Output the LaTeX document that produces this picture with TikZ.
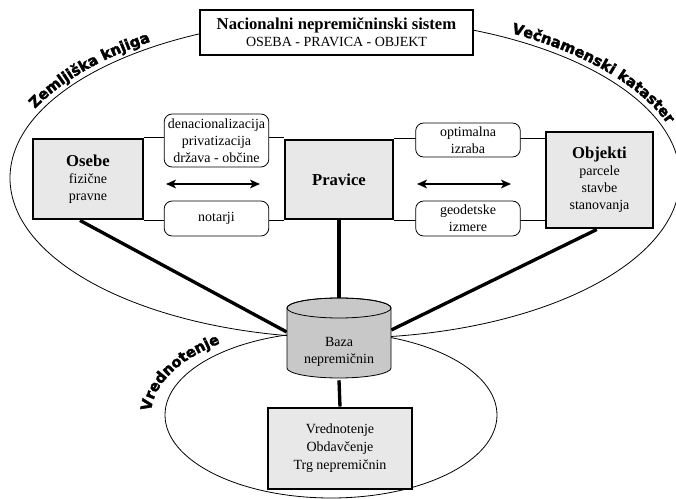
\documentclass[tikz,border=0pt]{standalone}
\usepackage{fontspec}
\setmainfont{Liberation Serif}
\newfontfamily\arcfont{DejaVu Sans Bold}[FakeBold=2.5]
\usetikzlibrary{arrows.meta,decorations.text,backgrounds}

\newcommand{\naslov}[1]{{\fontsize{12.5}{15}\selectfont\bfseries #1}}

\begin{document}
\begin{tikzpicture}[x=0.75pt, y=-0.75pt, draw=black,
  every node/.style={font=\fontsize{10.5}{12.75}\selectfont, align=center},
  gbox/.style={draw, line width=2.2pt, fill=gray!18, inner sep=1pt},
  rbox/.style={draw, line width=0.6pt, fill=white, rounded corners=6pt, inner sep=0.5pt, minimum width=78.5pt},
  tanka/.style={line width=0.6pt},
  debela/.style={line width=2.5pt},
  puscica/.style={line width=1.1pt, {Stealth[length=7.5pt,width=6.5pt,inset=2pt]}-{Stealth[length=7.5pt,width=6.5pt,inset=2pt]}},
  oznaka/.style={decorate, decoration={text along path, text align=center, text={|\arcfont\fontsize{11}{12}\selectfont|#1}}}]

\clip (0,0) rectangle (676,499);

% obroca
\draw[tanka] (345,178) ellipse [x radius=335, y radius=160];
\draw[tanka] (331,415) ellipse [x radius=166, y radius=83];

\path[oznaka={Zemljiška knjiga}] (345,178) ++(-161:341 and 166) arc[start angle=-161, end angle=-121, x radius=341, y radius=166];
\path[oznaka={Večnamenski kataster}] (345,178) ++(-62:341 and 166) arc[start angle=-62, end angle=-17, x radius=341, y radius=166];
\path[oznaka={Vrednotenje}] (331,415) ++(-181:180 and 91) arc[start angle=-181, end angle=-126, x radius=180, y radius=91];

\node[draw, line width=2.2pt, fill=white, minimum width=204.75pt, minimum height=33.75pt] (sistem) at (336.5,32.5) {\naslov{Nacionalni nepremičninski sistem}\\OSEBA - PRAVICA - OBJEKT};

\node[gbox, minimum width=82.5pt, minimum height=60pt] (osebe) at (88,179) {\naslov{Osebe}\\fizične\\pravne};

\node[gbox, minimum width=81pt, minimum height=59.25pt] (pravice) at (339,179.5) {\naslov{Pravice}};

\node[gbox, minimum width=80.25pt, minimum height=72pt] (objekti) at (599.5,180) {\naslov{Objekti}\\parcele\\stavbe\\stanovanja};

\node[rbox, minimum height=39.75pt] (denac) at (216.5,140.5) {denacionalizacija\\privatizacija\\država - občine};
\node[rbox, minimum height=26.25pt] (notarji) at (216.5,218.5) {notarji};
\node[rbox, minimum height=25.5pt] (izraba) at (468,140) {optimalna\\izraba};
\node[rbox, minimum height=26.25pt] (izmere) at (468,218.5) {geodetske\\izmere};

% baza (valj)
\draw[tanka, fill=gray!43] (287,308) -- (287,368) arc[start angle=180, end angle=0, x radius=52, y radius=10] -- (391,308) arc[start angle=0, end angle=-180, x radius=52, y radius=10] -- cycle;
\draw[tanka] (339,308) ellipse [x radius=52, y radius=10];
\node[minimum width=78pt, minimum height=42pt, inner sep=0pt] (baza) at (339,352) {Baza\\nepremičnin};

\node[gbox, minimum width=108pt, minimum height=60.75pt, font=\fontsize{10.5}{13.5}\selectfont] (trg) at (340,448.5) {Vrednotenje\\Obdavčenje\\Trg nepremičnin};

\coordinate (l1) at (166,184);
\coordinate (l2) at (260,184);
\coordinate (d1) at (417,184);
\coordinate (d2) at (511,184);
\draw[puscica] (l1) -- (l2);
\draw[puscica] (d1) -- (d2);

\begin{scope}[on background layer]
\draw[tanka] (osebe.north east) -- (osebe.north east -| pravice.west);
\draw[tanka] (osebe.south east) -- (osebe.south east -| pravice.west);
\draw[tanka] (pravice.north east) -- (pravice.north east -| objekti.west);
\draw[tanka] (pravice.south east) -- (pravice.south east -| objekti.west);
\draw[debela] ([xshift=-6pt]osebe.south) -- ([yshift=15pt]baza.west);
\draw[debela] (pravice.south) -- (baza.north);
\draw[debela] ([xshift=-2pt]objekti.south) -- ([yshift=16.5pt]baza.east);
\draw[debela] (baza.south) -- (trg.north);
\end{scope}
\end{tikzpicture}
\end{document}
